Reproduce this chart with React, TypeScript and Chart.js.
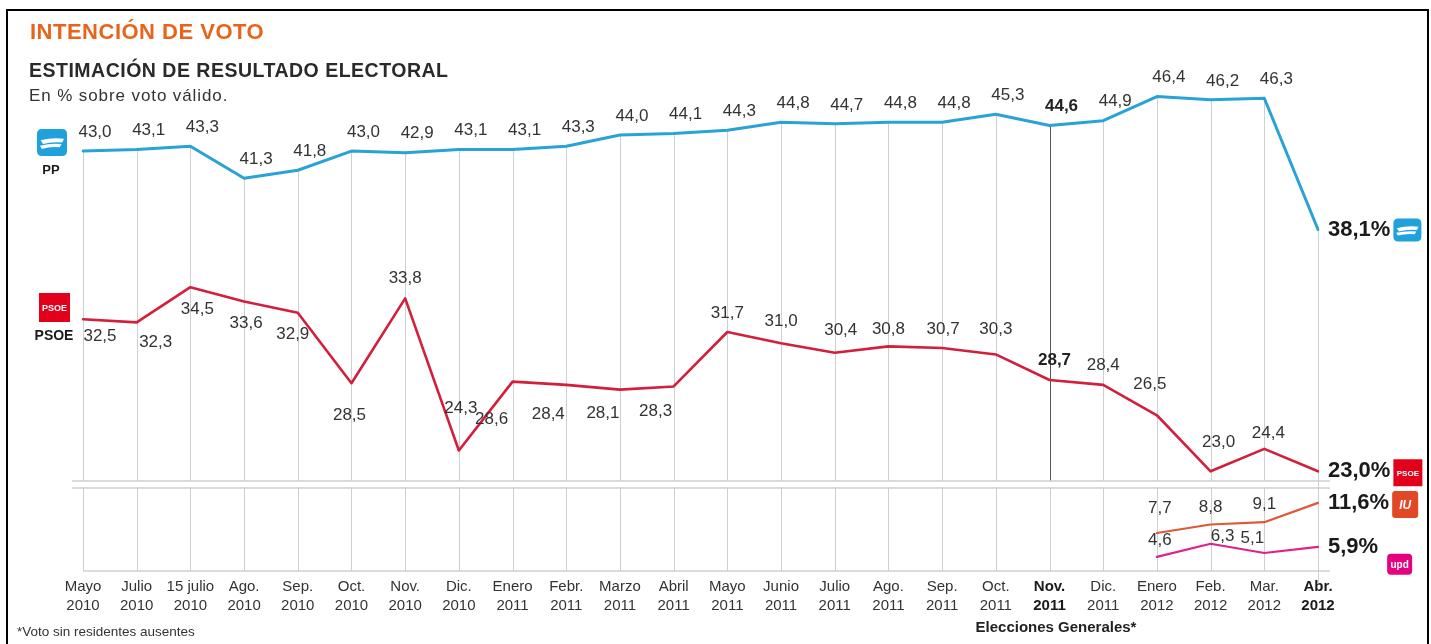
import React, { useEffect, useRef } from "react";
import { Chart, registerables } from "chart.js";

Chart.register(...registerables);

// ---------- DATA ----------
const categories: string[][] = [
  ["Mayo", "2010"], ["Julio", "2010"], ["15 julio", "2010"], ["Ago.", "2010"],
  ["Sep.", "2010"], ["Oct.", "2010"], ["Nov.", "2010"], ["Dic.", "2010"],
  ["Enero", "2011"], ["Febr.", "2011"], ["Marzo", "2011"], ["Abril", "2011"],
  ["Mayo", "2011"], ["Junio", "2011"], ["Julio", "2011"], ["Ago.", "2011"],
  ["Sep.", "2011"], ["Oct.", "2011"], ["Nov.", "2011"], ["Dic.", "2011"],
  ["Enero", "2012"], ["Feb.", "2012"], ["Mar.", "2012"], ["Abr.", "2012"],
];

const ppValues: number[] = [
  43.0, 43.1, 43.3, 41.3, 41.8, 43.0, 42.9, 43.1, 43.1, 43.3, 44.0, 44.1,
  44.3, 44.8, 44.7, 44.8, 44.8, 45.3, 44.6, 44.9, 46.4, 46.2, 46.3, 38.1,
];

const psoeValues: number[] = [
  32.5, 32.3, 34.5, 33.6, 32.9, 28.5, 33.8, 24.3, 28.6, 28.4, 28.1, 28.3,
  31.7, 31.0, 30.4, 30.8, 30.7, 30.3, 28.7, 28.4, 26.5, 23.0, 24.4, 23.0,
];

const iuValues: (number | null)[] = [
  null, null, null, null, null, null, null, null, null, null, null, null,
  null, null, null, null, null, null, null, null, 7.7, 8.8, 9.1, 11.6,
];

const upydValues: (number | null)[] = [
  null, null, null, null, null, null, null, null, null, null, null, null,
  null, null, null, null, null, null, null, null, 4.6, 6.3, 5.1, 5.9,
];

const electionIndex = 18; // Nov. 2011 - Elecciones Generales

// ---------- LABEL PLACEMENT (text offsets from each point, px) ----------
const psoeLabelShift: [number, number][] = [
  [17, 17], [19, 20], [7, 22], [2, 22], [-5, 22], [-2, 32], [0, -20], [2, -42],
  [-21, 38], [-18, 29], [-17, 24], [-18, 25], [0, -19], [0, -22], [6, -23], [0, -17],
  [1, -19], [0, -25], [5, -20], [0, -20], [-7, -31], [8, -29], [4, -16], [0, 0],
];
const iuLabelShift: [number, number][] = [[3, -25], [0, -17], [0, -18]];
const upydLabelShift: [number, number][] = [[3, -17], [12, -7], [-12, -15]];

// ---------- STYLE ----------
const FONT = "'Liberation Sans', Arial, Helvetica, sans-serif";
const PP_COLOR = "#29a3d5";
const PSOE_COLOR = "#d21f3c";
const IU_COLOR = "#dc5a36";
const UPYD_COLOR = "#df228b";
const GRID = "#cfcfcf";
const TEXT = "#333333";

const fmt = (v: number) => v.toFixed(1).replace(".", ",");

function rr(ctx: CanvasRenderingContext2D, x: number, y: number, w: number, h: number, r: number) {
  ctx.beginPath();
  ctx.moveTo(x + r, y);
  ctx.lineTo(x + w - r, y);
  ctx.quadraticCurveTo(x + w, y, x + w, y + r);
  ctx.lineTo(x + w, y + h - r);
  ctx.quadraticCurveTo(x + w, y + h, x + w - r, y + h);
  ctx.lineTo(x + r, y + h);
  ctx.quadraticCurveTo(x, y + h, x, y + h - r);
  ctx.lineTo(x, y + r);
  ctx.quadraticCurveTo(x, y, x + r, y);
  ctx.closePath();
}

function drawPPLogo(ctx: CanvasRenderingContext2D, x: number, y: number, w: number, h: number) {
  ctx.save();
  ctx.fillStyle = "#1fa2dc";
  rr(ctx, x, y, w, h, 5);
  ctx.fill();
  ctx.fillStyle = "#ffffff";
  ctx.beginPath();
  ctx.moveTo(x + w * 0.12, y + h * 0.42);
  ctx.quadraticCurveTo(x + w * 0.5, y + h * 0.3, x + w * 0.9, y + h * 0.36);
  ctx.lineTo(x + w * 0.84, y + h * 0.5);
  ctx.quadraticCurveTo(x + w * 0.5, y + h * 0.46, x + w * 0.2, y + h * 0.56);
  ctx.closePath();
  ctx.fill();
  ctx.beginPath();
  ctx.moveTo(x + w * 0.1, y + h * 0.62);
  ctx.quadraticCurveTo(x + w * 0.45, y + h * 0.52, x + w * 0.82, y + h * 0.56);
  ctx.lineTo(x + w * 0.76, y + h * 0.68);
  ctx.quadraticCurveTo(x + w * 0.45, y + h * 0.64, x + w * 0.16, y + h * 0.74);
  ctx.closePath();
  ctx.fill();
  ctx.restore();
}

function drawBoxLogo(
  ctx: CanvasRenderingContext2D, x: number, y: number, w: number, h: number,
  color: string, label: string, fontSize: number, radius: number, italic = false
) {
  ctx.save();
  ctx.fillStyle = color;
  rr(ctx, x, y, w, h, radius);
  ctx.fill();
  ctx.fillStyle = "#ffffff";
  ctx.font = `${italic ? "italic " : ""}bold ${fontSize}px ${FONT}`;
  ctx.textAlign = "center";
  ctx.textBaseline = "middle";
  ctx.fillText(label, x + w / 2, y + h / 2 + 1, w - 2);
  ctx.restore();
}

const overlayPlugin = {
  id: "overlay",
  beforeDatasetsDraw(chart: any) {
    const ctx: CanvasRenderingContext2D = chart.ctx;
    const xs = chart.scales.x;
    const ys = chart.scales.y;
    const y2 = chart.scales.y2;
    const gap = 7;
    ctx.save();
    ctx.lineWidth = 1;
    categories.forEach((_, i) => {
      const px = Math.round(xs.getPixelForValue(i)) + 0.5;
      const top = ys.getPixelForValue(ppValues[i]);
      const last = i === categories.length - 1;
      ctx.strokeStyle = i === electionIndex ? "#555555" : GRID;
      ctx.beginPath();
      ctx.moveTo(px, top);
      ctx.lineTo(px, last ? y2.bottom + 12 : ys.bottom);
      ctx.stroke();
      if (!last) {
        ctx.strokeStyle = GRID;
        ctx.beginPath();
        ctx.moveTo(px, y2.top + gap);
        ctx.lineTo(px, y2.bottom);
        ctx.stroke();
      }
    });
    ctx.strokeStyle = GRID;
    ctx.lineWidth = 1.5;
    const sepL = xs.left - 11;
    const sepR = xs.right + 12;
    [ys.bottom, y2.top + gap].forEach((yy) => {
      ctx.beginPath();
      ctx.moveTo(sepL, yy);
      ctx.lineTo(sepR, yy);
      ctx.stroke();
    });
    ctx.beginPath();
    ctx.moveTo(xs.left, y2.bottom);
    ctx.lineTo(sepR, y2.bottom);
    ctx.stroke();
    ctx.restore();
  },
  afterDatasetsDraw(chart: any) {
    const ctx: CanvasRenderingContext2D = chart.ctx;
    const xs = chart.scales.x;
    const ys = chart.scales.y;
    const y2 = chart.scales.y2;
    const lastIdx = categories.length - 1;
    ctx.save();
    ctx.textAlign = "center";
    ctx.textBaseline = "middle";

    const label = (txt: string, x: number, y: number, bold: boolean) => {
      ctx.font = `${bold ? "bold " : ""}17px ${FONT}`;
      ctx.fillStyle = bold ? "#222" : TEXT;
      ctx.fillText(txt, x, y);
    };

    ppValues.forEach((v, i) => {
      if (i === lastIdx) return;
      const px = xs.getPixelForValue(i);
      const py = ys.getPixelForValue(v);
      label(fmt(v), px + 12, py - 19, i === electionIndex);
    });
    psoeValues.forEach((v, i) => {
      if (i === lastIdx) return;
      const px = xs.getPixelForValue(i);
      const py = ys.getPixelForValue(v);
      const [dx, dy] = psoeLabelShift[i];
      label(fmt(v), px + dx, py + dy, i === electionIndex);
    });
    const small: [(number | null)[], [number, number][]][] = [
      [iuValues, iuLabelShift],
      [upydValues, upydLabelShift],
    ];
    small.forEach(([arr, shifts]) => {
      let k = 0;
      arr.forEach((v, i) => {
        if (v == null || i === lastIdx) return;
        const px = xs.getPixelForValue(i);
        const py = y2.getPixelForValue(v);
        const [dx, dy] = shifts[k++] || [0, -16];
        label(fmt(v), px + dx, py + dy, false);
      });
    });

    const endX = xs.getPixelForValue(lastIdx) + 10;
    const ends = [
      { v: ppValues[lastIdx] as number, scale: ys, logo: "pp" },
      { v: psoeValues[lastIdx] as number, scale: ys, logo: "psoe" },
      { v: iuValues[lastIdx] as number, scale: y2, logo: "iu" },
      { v: upydValues[lastIdx] as number, scale: y2, logo: "upd" },
    ];
    ends.forEach((e) => {
      const py = e.scale.getPixelForValue(e.v);
      const txt = fmt(e.v) + "%";
      ctx.font = `bold 22px ${FONT}`;
      ctx.fillStyle = "#1a1a1a";
      ctx.textAlign = "left";
      ctx.textBaseline = "middle";
      ctx.fillText(txt, endX, py);
      const w = ctx.measureText(txt).width;
      const lx = endX + w + 3;
      if (e.logo === "pp") drawPPLogo(ctx, lx, py - 11, 28, 23);
      else if (e.logo === "psoe") drawBoxLogo(ctx, lx, py - 12, 29, 27, "#e2001a", "PSOE", 8, 0);
      else if (e.logo === "iu") drawBoxLogo(ctx, lx, py - 12, 26, 27, "#e04826", "IU", 12, 3, true);
      else drawBoxLogo(ctx, lx + 6, py + 7, 25, 21, "#e4007e", "upd", 10, 4);
    });

    drawPPLogo(ctx, 37, 129, 30, 27);
    drawBoxLogo(ctx, 39, 293, 31, 29, "#e2001a", "PSOE", 9, 0);
    ctx.textAlign = "center";
    ctx.textBaseline = "middle";
    ctx.fillStyle = "#1a1a1a";
    ctx.font = `bold 13px ${FONT}`;
    ctx.fillText("PP", 51, 170);
    ctx.font = `bold 14px ${FONT}`;
    ctx.fillText("PSOE", 54, 336);
    ctx.restore();
  },
};

export default function App() {
  const canvasRef = useRef<HTMLCanvasElement | null>(null);

  useEffect(() => {
    if (!canvasRef.current) return;
    const chart = new Chart(canvasRef.current, {
      type: "line",
      data: {
        labels: categories,
        datasets: [
          { label: "PP", data: ppValues, borderColor: PP_COLOR, borderWidth: 3, yAxisID: "y" },
          { label: "PSOE", data: psoeValues, borderColor: PSOE_COLOR, borderWidth: 2.6, yAxisID: "y" },
          { label: "IU", data: iuValues, borderColor: IU_COLOR, borderWidth: 2.2, yAxisID: "y2" },
          { label: "UPyD", data: upydValues, borderColor: UPYD_COLOR, borderWidth: 2.2, yAxisID: "y2" },
        ],
      },
      options: {
        animation: false,
        responsive: false,
        events: [],
        elements: {
          point: { radius: 0, hoverRadius: 0 },
          line: { tension: 0, borderCapStyle: "round", borderJoinStyle: "round" },
        },
        layout: { padding: { left: 83, right: 113, top: 71, bottom: 23 } },
        plugins: { legend: { display: false }, tooltip: { enabled: false } },
        scales: {
          x: {
            type: "category",
            offset: false,
            grid: { display: false, drawTicks: false },
            border: { display: false },
            ticks: {
              autoSkip: false,
              maxRotation: 0,
              minRotation: 0,
              padding: 6,
              color: (c: any) => (c.index === electionIndex || c.index === categories.length - 1 ? "#1a1a1a" : TEXT),
              font: (c: any) => ({
                family: FONT,
                size: 15,
                lineHeight: 1.27,
                weight: c.index === electionIndex || c.index === categories.length - 1 ? "bold" : "normal",
              }),
            },
          },
          y2: {
            type: "linear",
            position: "left",
            stack: "panels",
            stackWeight: 90,
            min: 2.78,
            max: 14.45,
            grid: { display: false, drawTicks: false },
            border: { display: false },
            ticks: { display: false },
          },
          y: {
            type: "linear",
            position: "left",
            stack: "panels",
            stackWeight: 410,
            min: 22.4,
            max: 48,
            grid: { display: false, drawTicks: false },
            border: { display: false },
            ticks: { display: false },
          },
        },
      },
      plugins: [overlayPlugin],
    } as any);
    return () => chart.destroy();
  }, []);

  return (
    <div style={{ position: "fixed", left: 0, top: 0, width: 1431, height: 644, background: "#fff", overflow: "hidden", fontFamily: FONT }}>
      <canvas ref={canvasRef} width={1431} height={644} style={{ position: "absolute", left: 0, top: 0, width: 1431, height: 644 }} />
      <div style={{ position: "absolute", left: 6, top: 9, width: 1423, height: 700, border: "2px solid #000", boxSizing: "border-box", pointerEvents: "none" }} />
      <div style={{ position: "absolute", left: 30, top: 19, fontSize: 22, fontWeight: "bold", color: "#e8641b", letterSpacing: 0.5, lineHeight: "26px", whiteSpace: "nowrap" }}>
        INTENCIÓN DE VOTO
      </div>
      <div style={{ position: "absolute", left: 29, top: 58, fontSize: 19.5, fontWeight: "bold", color: "#2a2a2a", letterSpacing: 0.5, lineHeight: "24px", whiteSpace: "nowrap" }}>
        ESTIMACIÓN DE RESULTADO ELECTORAL
      </div>
      <div style={{ position: "absolute", left: 29, top: 86, fontSize: 17, color: "#333", letterSpacing: 0.9, lineHeight: "20px", whiteSpace: "nowrap" }}>
        En % sobre voto válido.
      </div>
      <div style={{ position: "absolute", left: 17, top: 624, fontSize: 13.5, color: "#333", lineHeight: "16px", whiteSpace: "nowrap" }}>
        *Voto sin residentes ausentes
      </div>
      <div style={{ position: "absolute", left: 960, top: 618, width: 192, textAlign: "center", fontSize: 15, fontWeight: "bold", color: "#222", lineHeight: "18px", whiteSpace: "nowrap" }}>
        Elecciones Generales*
      </div>
    </div>
  );
}
